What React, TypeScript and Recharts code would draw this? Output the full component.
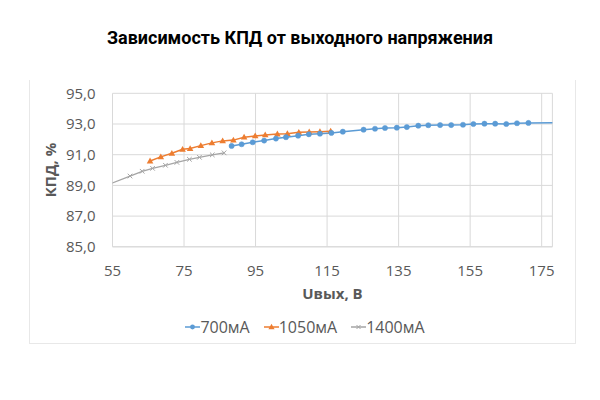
import { LineChart, Line, XAxis, YAxis, CartesianGrid } from 'recharts';

// output voltage (V) and efficiency (%) for each load current
const u700 = [88.3, 91.1, 94.2, 97.4, 100.7, 103.5, 106.9, 109.9, 113.0, 116.2, 119.4, 125.2, 128.4, 131.2, 134.5, 137.3, 140.5, 143.3, 146.6, 149.7, 153.0, 155.9, 159.0, 162.0, 165.1, 168.1, 171.3, 180];
const eff700 = [91.57, 91.68, 91.81, 91.92, 92.05, 92.14, 92.24, 92.33, 92.37, 92.42, 92.5, 92.63, 92.69, 92.74, 92.76, 92.8, 92.89, 92.92, 92.93, 92.93, 92.95, 93.0, 93.02, 93.02, 93.0, 93.05, 93.07, 93.08];

const u1050 = [65.5, 68.5, 71.6, 74.6, 76.7, 79.7, 82.8, 85.8, 88.8, 91.8, 94.9, 97.7, 101.1, 103.9, 107.1, 110.0, 113.0, 116.0];
const eff1050 = [90.59, 90.86, 91.09, 91.35, 91.4, 91.59, 91.77, 91.9, 91.95, 92.14, 92.22, 92.29, 92.35, 92.37, 92.46, 92.48, 92.5, 92.53];

const u1400 = [51, 59.9, 63.3, 66.2, 69.8, 73.0, 76.5, 79.3, 82.9, 86.2];
const eff1400 = [88.8, 89.61, 89.92, 90.11, 90.31, 90.5, 90.7, 90.83, 90.99, 91.12];

const xTicks = [55, 75, 95, 115, 135, 155, 175];
const yTicks = [85, 87, 89, 91, 93, 95];

const BLUE = '#5B9BD5';
const ORANGE = '#ED7D31';
const GREY = '#A5A5A5';
const TEXT = '#595959';
const GRID = '#D9D9D9';
const FONT = '"Open Sans", "Liberation Sans", sans-serif';

const toPoints = (xs: number[], ys: number[]) => xs.map((u, i) => ({ u, eff: ys[i] }));

const CircleDot = (props: any) => {
  const { cx, cy, index } = props;
  if (cx == null || cy == null) return <g key={index} />;
  return <circle key={index} cx={cx} cy={cy} r={2.6} fill={BLUE} stroke={BLUE} strokeWidth={0.5} />;
};

const TriangleDot = (props: any) => {
  const { cx, cy, index } = props;
  if (cx == null || cy == null) return <g key={index} />;
  return <path key={index} d={`M${cx},${cy - 3.4}L${cx + 3.3},${cy + 2.4}L${cx - 3.3},${cy + 2.4}Z`} fill={ORANGE} />;
};

const CrossDot = (props: any) => {
  const { cx, cy, index } = props;
  if (cx == null || cy == null) return <g key={index} />;
  return (
    <path key={index} d={`M${cx - 2.3},${cy - 2.3}L${cx + 2.3},${cy + 2.3}M${cx - 2.3},${cy + 2.3}L${cx + 2.3},${cy - 2.3}`} stroke={GREY} strokeWidth={1} />
  );
};

const LegendItem = ({ color, label, marker }: { color: string; label: string; marker: 'circle' | 'triangle' | 'cross' }) => (
  <div style={{ display: 'flex', alignItems: 'center' }}>
    <svg width={15} height={10}>
      <line x1={0} y1={5} x2={15} y2={5} stroke={color} strokeWidth={1.5} />
      {marker === 'circle' && <circle cx={7.5} cy={5} r={2.4} fill={color} />}
      {marker === 'triangle' && <path d="M7.5,1.8L10.6,7.2L4.4,7.2Z" fill={color} />}
      {marker === 'cross' && <path d="M5.5,3L9.5,7M5.5,7L9.5,3" stroke={color} strokeWidth={1} />}
    </svg>
    <span>{label}</span>
  </div>
);

export default function App() {
  return (
    <div style={{ position: 'absolute', left: 0, top: 0, width: 600, height: 400, background: '#fff', fontFamily: FONT }}>
      <div style={{ position: 'absolute', top: 28, left: 0, width: 600, textAlign: 'center', fontFamily: 'Roboto, sans-serif', fontWeight: 700, fontSize: 18, lineHeight: '20px', color: '#000' }}>
        Зависимость КПД от выходного напряжения
      </div>

      {/* faint chart-area frame */}
      <div style={{ position: 'absolute', left: 29, top: 80, width: 545, height: 263, borderLeft: '1px solid #E8E8E8', borderRight: '1px solid #E8E8E8', borderBottom: '1px solid #E8E8E8' }} />

      <LineChart width={600} height={400} margin={{ top: 93.3, right: 47.6, left: 52.5, bottom: 123.2 }} style={{ position: 'absolute', left: 0, top: 0 }}>
        <CartesianGrid stroke={GRID} strokeWidth={1} />
        <XAxis
          dataKey="u"
          type="number"
          domain={[55, 178]}
          ticks={xTicks}
          allowDataOverflow
          height={30}
          tickSize={0}
          tickMargin={19}
          axisLine={{ stroke: GRID }}
          tick={{ fill: TEXT, fontSize: 15, fontFamily: FONT }}
          label={{ value: 'Uвых, В', position: 'bottom', offset: 12, style: { fill: TEXT, fontSize: 15, fontWeight: 700, fontFamily: FONT } }}
        />
        <YAxis
          type="number"
          domain={[85, 95]}
          ticks={yTicks}
          allowDataOverflow
          width={60}
          tickSize={0}
          tickMargin={17}
          axisLine={false}
          tickFormatter={(v: number) => v.toFixed(1).replace('.', ',')}
          tick={{ fill: TEXT, fontSize: 15, fontFamily: FONT }}
          label={{ value: 'КПД, %', angle: -90, position: 'insideLeft', offset: -2, style: { fill: TEXT, fontSize: 15, fontWeight: 700, fontFamily: FONT, textAnchor: 'middle' } }}
        />
        <Line data={toPoints(u1400, eff1400)} dataKey="eff" type="linear" stroke={GREY} strokeWidth={1.3} dot={CrossDot} activeDot={false} isAnimationActive={false} />
        <Line data={toPoints(u1050, eff1050)} dataKey="eff" type="linear" stroke={ORANGE} strokeWidth={1.5} dot={TriangleDot} activeDot={false} isAnimationActive={false} />
        <Line data={toPoints(u700, eff700)} dataKey="eff" type="linear" stroke={BLUE} strokeWidth={1.5} dot={CircleDot} activeDot={false} isAnimationActive={false} />
      </LineChart>

      <div style={{ position: 'absolute', top: 317, left: 10, width: 590, display: 'flex', justifyContent: 'center', gap: 14, fontSize: 16, lineHeight: '20px', color: TEXT }}>
        <LegendItem color={BLUE} label="700мА" marker="circle" />
        <LegendItem color={ORANGE} label="1050мА" marker="triangle" />
        <LegendItem color={GREY} label="1400мА" marker="cross" />
      </div>
    </div>
  );
}
